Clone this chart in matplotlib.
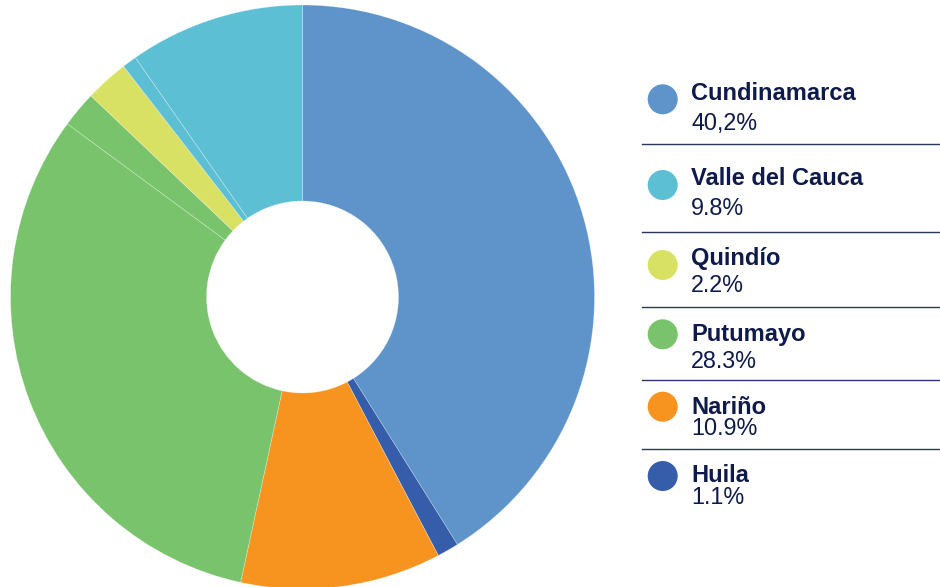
import matplotlib.pyplot as plt
from matplotlib.patches import Circle


# =====================================
# DATA
# =====================================

regions = ["Cundinamarca", "Valle del Cauca", "Quindío", "Putumayo", "Nariño", "Huila"]
pct_labels = ["40,2%", "9.8%", "2.2%", "28.3%", "10.9%", "1.1%"]

# slices clockwise from 12 o'clock, as drawn in the ring
slice_region = ["Cundinamarca", "Huila", "Nariño", "Putumayo", "Putumayo",
                "Quindío", "Valle del Cauca", "Valle del Cauca"]
slice_values = [41.1, 1.2, 11.1, 31.7, 2.0, 2.4, 0.8, 9.7]

region_colors = {
    "Cundinamarca": "#5E94C9",
    "Valle del Cauca": "#5DBFD3",
    "Quindío": "#D8E163",
    "Putumayo": "#78C36C",
    "Nariño": "#F7941F",
    "Huila": "#355DAA",
}

navy = "#0E1A4A"


# =====================================
# Figure
# =====================================

W, H = 940, 587
fig = plt.figure(figsize=(W / 100, H / 100), dpi=100)

cx, cy, R = 302.5, 297, 292
ax = fig.add_axes([(cx - R) / W, (H - cy - R) / H, 2 * R / W, 2 * R / H])

ax.pie(
    slice_values,
    colors=[region_colors[r] for r in slice_region],
    startangle=90,
    counterclock=False,
    radius=1,
    wedgeprops=dict(width=1 - 96 / R, edgecolor=(1, 1, 1, 0.35), linewidth=0.5),
)
ax.set_xlim(-1, 1)
ax.set_ylim(-1, 1)
ax.axis("off")


# =====================================
# Legend (pixel coords overlay)
# =====================================

lg = fig.add_axes([0, 0, 1, 1])
lg.set_xlim(0, W)
lg.set_ylim(H, 0)
lg.axis("off")

dot_y = [99.3, 185, 265, 334.3, 406.7, 476]
name_y = [100, 185, 265, 341, 413.5, 482.5]
val_y = [130, 215, 291.5, 367.5, 435, 504.5]
sep_y = [144, 232.3, 307, 380, 449.3]

for i, r in enumerate(regions):

    lg.add_patch(
        Circle((662.7, dot_y[i]), 15, color=region_colors[r], lw=0)
    )

    lg.text(
        691, name_y[i], r,
        fontsize=17, fontweight="bold",
        family="Liberation Sans", color=navy, va="baseline"
    )

    lg.text(
        691, val_y[i], pct_labels[i],
        fontsize=16.8, family="Liberation Sans",
        color=navy, va="baseline"
    )

for y in sep_y:
    lg.plot([642, 940], [y, y], color="#2A3766", lw=1)


fig.savefig("out.png", dpi=100)
